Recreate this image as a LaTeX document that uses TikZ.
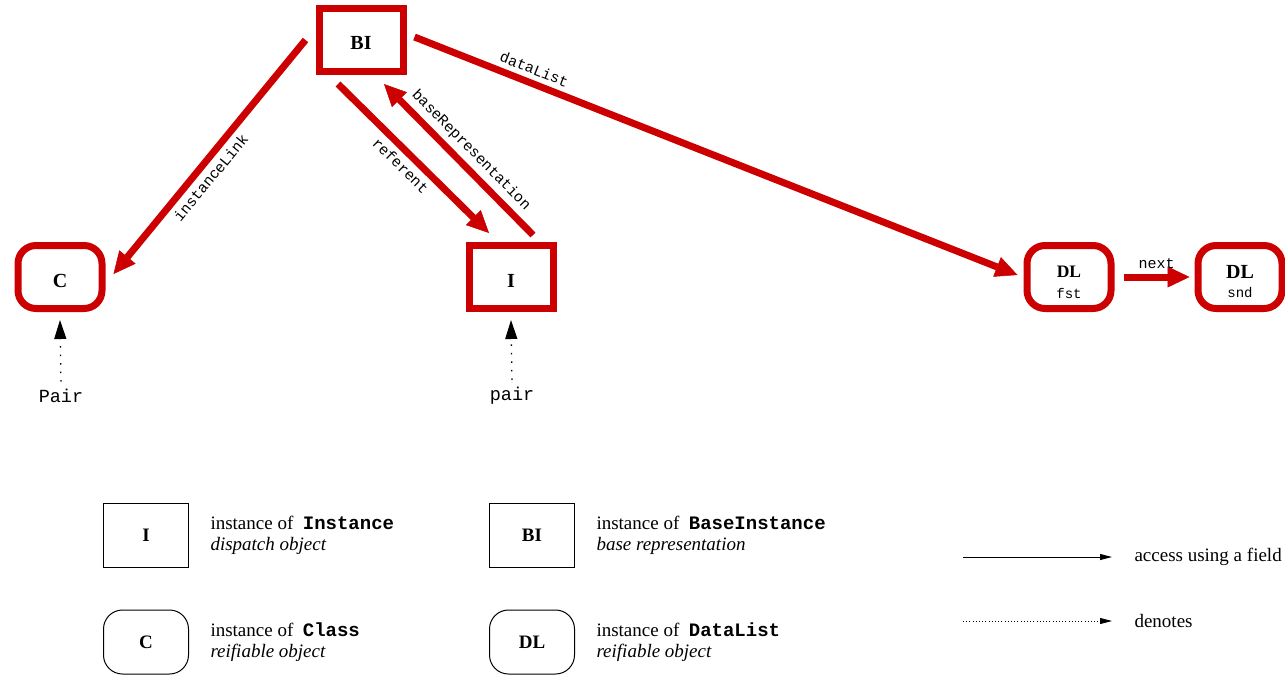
\documentclass[tikz,border=0pt]{standalone}
\usepackage{fontspec}
\setmainfont{Liberation Serif}
\setmonofont{Liberation Mono}
\usetikzlibrary{arrows.meta,positioning}
\definecolor{linkred}{rgb}{0.8,0,0}
\newcommand{\lowered}[2]{\raisebox{-#1}[\height][\depth]{#2}}

\begin{document}
\begin{tikzpicture}[x=1pt,y=-1pt,
    obj/.style={draw=linkred,line width=7pt,minimum width=84pt,minimum height=63pt,inner sep=0pt,align=center,font=\fontsize{20}{22}\selectfont\bfseries},
    robj/.style={obj,rounded corners=18pt},
    key/.style={draw,line width=1pt,minimum width=85pt,minimum height=64pt,font=\fontsize{19}{21}\selectfont\bfseries},
    rkey/.style={key,rounded corners=19pt},
    arr/.style={-{Triangle[length=22pt,width=21pt,line width=0.5pt]},line width=7pt,linkred},
    lab/.style={font=\fontsize{15}{17}\selectfont\ttfamily,text=black,sloped,inner sep=5pt},
    den/.style={-{Triangle[length=19pt,width=12pt]},line width=1.3pt,dash pattern=on 1.5pt off 7pt},
    txt/.style={align=left,anchor=west,font=\fontsize{19}{21}\selectfont}]
    \useasboundingbox (0,0) rectangle (1285,681);
    \node[obj] (bi) at (361,40) {\lowered{3pt}{BI}};
    \node[robj] (c) at (60,277) {\lowered{4pt}{C}};
    \node[obj] (i) at (511,277) {\lowered{4pt}{I}};
    \node[robj] (dl1) at (1069,277) {\lowered{7pt}{\begin{tabular}{@{}c@{}}{\fontsize{17.5}{19}\selectfont DL}\\[-1pt]{\normalfont\ttfamily\fontsize{14}{16}\selectfont fst}\end{tabular}}};
    \node[robj,right=80pt of dl1] (dl2) {\lowered{7pt}{\begin{tabular}{@{}c@{}}DL\\[-3pt]{\normalfont\ttfamily\fontsize{14}{16}\selectfont snd}\end{tabular}}};
    \node[font=\fontsize{18.5}{20}\selectfont\ttfamily] (pairc) at (61,396) {Pair};
    \node[font=\fontsize{18.5}{20}\selectfont\ttfamily] (pairi) at (512,396) {pair};
    \draw[arr] ([xshift=-10pt]bi.west) -- ([xshift=8pt,yshift=3pt]c.east) node[lab,below,pos=0.55] {instanceLink};
    \draw[arr] ([xshift=-23pt,yshift=-9pt]bi.south) -- ([xshift=-22pt,yshift=9pt]i.north) node[lab,below,pos=0.48] {referent};
    \draw[arr] ([xshift=22pt,yshift=7pt]i.north) -- ([xshift=23pt,yshift=-9pt]bi.south) node[lab,above,pos=0.49] {baseRepresentation};
    \draw[arr] ([xshift=8pt,yshift=3pt]bi.east) -- ([xshift=-6pt,yshift=2pt]dl1.west) node[lab,above,pos=0.19] {dataList};
    \draw[arr] ([xshift=9pt]dl1.east) -- ([xshift=-5pt]dl2.west) node[lab,above,midway] {next};
    \draw[den,shorten <=4pt] (pairc.north) -- ([yshift=-8pt]c.south);
    \draw[den,shorten <=4pt] (pairi.north) -- ([yshift=-8pt]i.south);
    \node[key] (ki) at (146,535) {I};
    \node[txt,right=18pt of ki] (kitxt) {instance of\ \ \texttt{\bfseries Instance}\\\textit{dispatch object}};
    \node[key] (kbi) at (532,535) {BI};
    \node[txt,right=18pt of kbi] (kbitxt) {instance of\ \ \texttt{\bfseries BaseInstance}\\\textit{base representation}};
    \node[rkey] (kc) at (146,642) {C};
    \node[txt,right=18pt of kc] (kctxt) {instance of\ \ \texttt{\bfseries Class}\\\textit{reifiable object}};
    \node[rkey] (kdl) at (532,642) {DL};
    \node[txt,right=18pt of kdl] (kdltxt) {instance of\ \ \texttt{\bfseries DataList}\\\textit{reifiable object}};
    \coordinate (acca) at (963,557);
    \coordinate (accb) at (1112,557);
    \draw[-{Triangle[length=12pt,width=6pt]},line width=1pt] (acca) -- (accb);
    \node[txt,right=19pt of accb] (acctxt) {access using a field};
    \coordinate (dena) at (963,621);
    \coordinate (denb) at (1112,621);
    \draw[-{Triangle[length=12pt,width=6pt]},line width=0.8pt,dash pattern=on 0.8pt off 2.4pt] (dena) -- (denb);
    \node[txt,right=19pt of denb] (dentxt) {denotes};
\end{tikzpicture}
\end{document}
